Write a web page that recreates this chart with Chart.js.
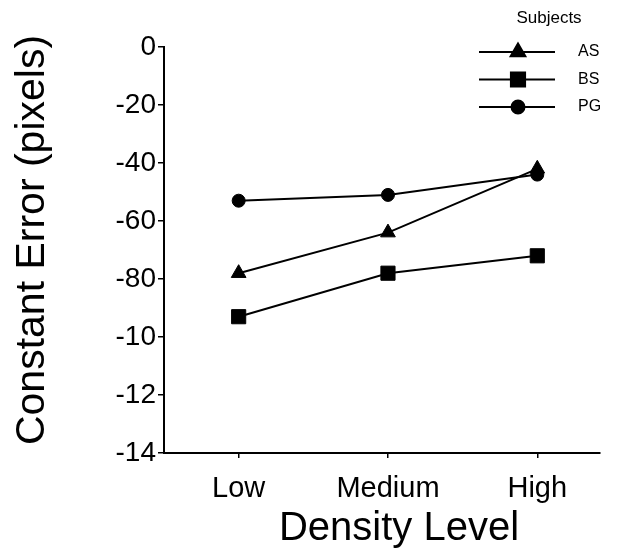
<!DOCTYPE html>
<html>
<head>
<meta charset="utf-8">
<script src="https://cdn.jsdelivr.net/npm/chart.js@4.4.1/dist/chart.umd.min.js"></script>
<style>
  html, body { margin: 0; padding: 0; background: #fff; }
  #wrap { width: 620px; height: 550px; position: relative; }
</style>
</head>
<body>
<div id="wrap"><canvas id="errChart"></canvas></div>
<script>
// data
const densityLevels = ['Low', 'Medium', 'High'];
const subjectNames = ['AS', 'BS', 'PG'];
const asValues = [-78, -64, -42];
const bsValues = [-93, -78, -72];
const pgValues = [-53, -51, -44];
// y tick labels exactly as printed (0 .. -140 in steps of 20)
const yTickValues = [0, -20, -40, -60, -80, -100, -120, -140];
const yTickLabels = ['0', '-20', '-40', '-60', '-80', '-10', '-12', '-14'];

const FONT = '"Liberation Sans", Arial, Helvetica, sans-serif';
const markers = ['triangle', 'rect', 'circle'];
const markerRadius = [8.5, 10, 6.5];

function toPoints(vals) {
    return vals.map((v, i) => ({ x: i, y: v }));
}

const allSeries = [asValues, bsValues, pgValues];

// legend top right (line through marker) + the two axis titles, placed like the scan
const extras = {
    id: 'extras',
    afterDraw(chart) {
        const ctx = chart.ctx;
        ctx.save();
        ctx.fillStyle = '#000';
        ctx.font = '17px ' + FONT;
        ctx.textAlign = 'center';
        ctx.textBaseline = 'middle';
        ctx.fillText('Subjects', 549, 18);
        chart.data.datasets.forEach((ds, i) => {
            const y = 52 + i * 27.5;
            ctx.strokeStyle = '#000';
            ctx.lineWidth = 2;
            ctx.beginPath();
            ctx.moveTo(479, y);
            ctx.lineTo(555, y);
            ctx.stroke();
            Chart.helpers.drawPoint(ctx, {
                pointStyle: ds.pointStyle,
                radius: ds.pointRadius,
                borderWidth: 1
            }, 518, y);
            ctx.fillStyle = '#000';
            ctx.fill();
            ctx.font = '16px ' + FONT;
            ctx.textAlign = 'left';
            ctx.fillText(ds.label, 578, y);
        });

        // axis titles
        ctx.fillStyle = '#000';
        ctx.textAlign = 'center';
        ctx.textBaseline = 'middle';
        ctx.font = '40px ' + FONT;
        ctx.fillText('Density Level', 399, 529);
        ctx.translate(33, 240);
        ctx.rotate(-Math.PI / 2);
        ctx.font = '41px ' + FONT;
        ctx.fillText('Constant Error (pixels)', 0, 0);
        ctx.restore();
    }
};

const ctx = document.getElementById('errChart').getContext('2d');
const chart = new Chart(ctx, {
    type: 'line',
    data: {
        datasets: allSeries.map((vals, i) => ({
            label: subjectNames[i],
            data: toPoints(vals),
            borderColor: '#000',
            backgroundColor: '#000',
            borderWidth: 2,
            pointStyle: markers[i],
            pointRadius: markerRadius[i],
            pointBackgroundColor: '#000',
            pointBorderColor: '#000',
            pointBorderWidth: 1,
            tension: 0
        }))
    },
    options: {
        responsive: true,
        maintainAspectRatio: false,
        animation: false,
        layout: { padding: { top: 47, right: 20, left: 0, bottom: 0 } },
        plugins: {
            legend: { display: false },
            tooltip: { enabled: false }
        },
        scales: {
            x: {
                type: 'linear',
                min: -0.5,
                max: 2.42,
                afterBuildTicks: (s) => { s.ticks = densityLevels.map((_, i) => ({ value: i })); },
                afterFit: (s) => { s.height = 97; },
                grid: { drawOnChartArea: false, tickLength: 5, color: '#000', lineWidth: 1.5 },
                border: { color: '#000', width: 2 },
                ticks: {
                    color: '#000',
                    padding: 14,
                    font: { family: FONT, size: 29 },
                    maxRotation: 0,
                    callback: (v) => densityLevels[v]
                }
            },
            y: {
                min: -140,
                max: 0,
                afterBuildTicks: (s) => {
                    const t = [];
                    for (let v = 0; v >= -140; v -= 10) t.push({ value: v });
                    s.ticks = t;
                },
                afterFit: (s) => { s.width = 164; },
                grid: { drawOnChartArea: false, tickLength: 6, color: '#000', lineWidth: 1.5 },
                border: { color: '#000', width: 2 },
                ticks: {
                    color: '#000',
                    padding: 2,
                    font: { family: FONT, size: 28 },
                    callback: (v) => {
                        const k = yTickValues.indexOf(v);
                        return k >= 0 ? yTickLabels[k] : '';
                    }
                }
            }
        }
    },
    plugins: [extras]
});
</script>
</body>
</html>
